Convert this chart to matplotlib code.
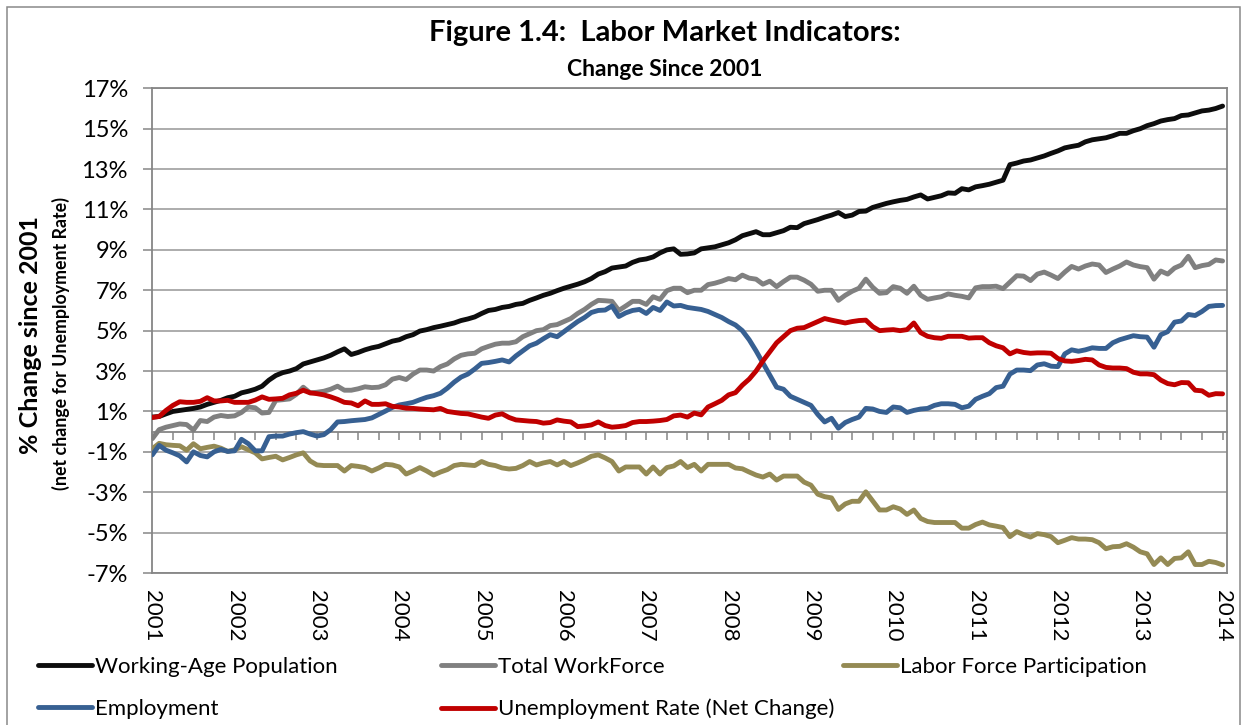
import matplotlib
matplotlib.use("Agg")
import matplotlib.pyplot as plt
from matplotlib.patches import Rectangle
from matplotlib.transforms import blended_transform_factory

plt.rcParams['font.family'] = ['Lato', 'DejaVu Sans']

# ---------------- data (monthly, Jan 2001 .. Jan 2014), % change since 2001 -------------
years = ['2001', '2002', '2003', '2004', '2005', '2006', '2007',
         '2008', '2009', '2010', '2011', '2012', '2013', '2014']

working_age_pop = [
    0.72, 0.75, 0.88, 1.0, 1.05, 1.1, 1.15, 1.22, 1.35, 1.45, 1.55, 1.68,
    1.75, 1.92, 2.0, 2.1, 2.25, 2.55, 2.78, 2.92, 3.0, 3.12, 3.35, 3.45,
    3.55, 3.65, 3.78, 3.95, 4.1, 3.82, 3.92, 4.05, 4.15, 4.22, 4.35, 4.48,
    4.55, 4.7, 4.8, 4.98, 5.05, 5.15, 5.22, 5.3, 5.38, 5.5, 5.58, 5.68,
    5.85, 6.0, 6.05, 6.15, 6.2, 6.3, 6.35, 6.5, 6.62, 6.75, 6.85, 6.98,
    7.1, 7.2, 7.3, 7.42, 7.58, 7.8, 7.92, 8.1, 8.15, 8.2, 8.38, 8.5,
    8.55, 8.65, 8.85, 9.0, 9.05, 8.78, 8.8, 8.85, 9.05, 9.1, 9.15, 9.25,
    9.35, 9.5, 9.7, 9.8, 9.9, 9.75, 9.75, 9.85, 9.95, 10.12, 10.1, 10.3,
    10.4, 10.5, 10.62, 10.72, 10.85, 10.65, 10.72, 10.9, 10.92, 11.1, 11.2, 11.3,
    11.38, 11.45, 11.5, 11.62, 11.72, 11.52, 11.6, 11.68, 11.82, 11.8, 12.03, 11.97,
    12.12, 12.18, 12.25, 12.35, 12.45, 13.22, 13.3, 13.4, 13.45, 13.55, 13.65, 13.78,
    13.9, 14.05, 14.12, 14.18, 14.35, 14.45, 14.5, 14.55, 14.65, 14.77, 14.77, 14.9,
    15.0, 15.15, 15.25, 15.38, 15.45, 15.5, 15.65, 15.68, 15.78, 15.88, 15.92, 16.0,
    16.12]

total_workforce = [
    -0.35, 0.1, 0.22, 0.3, 0.38, 0.35, 0.08, 0.55, 0.5, 0.72, 0.8, 0.75,
    0.78, 0.95, 1.22, 1.18, 0.92, 0.95, 1.55, 1.58, 1.62, 1.85, 2.2, 1.92,
    1.95, 2.0, 2.1, 2.25, 2.05, 2.05, 2.12, 2.22, 2.18, 2.2, 2.32, 2.6,
    2.68, 2.58, 2.85, 3.05, 3.05, 3.0, 3.22, 3.35, 3.6, 3.78, 3.85, 3.88,
    4.1, 4.22, 4.33, 4.38, 4.38, 4.45, 4.7, 4.85, 5.0, 5.05, 5.25, 5.3,
    5.45, 5.6, 5.85, 6.05, 6.3, 6.5, 6.48, 6.45, 6.0, 6.22, 6.45, 6.45,
    6.3, 6.68, 6.55, 6.98, 7.1, 7.1, 6.88, 7.0, 7.0, 7.28, 7.35, 7.45,
    7.58, 7.52, 7.75, 7.6, 7.55, 7.3, 7.45, 7.18, 7.43, 7.65, 7.65, 7.5,
    7.3, 6.95, 7.0, 7.0, 6.5, 6.75, 6.95, 7.1, 7.55, 7.15, 6.85, 6.88,
    7.18, 7.1, 6.85, 7.2, 6.75, 6.55, 6.62, 6.68, 6.82, 6.75, 6.7, 6.62,
    7.12, 7.18, 7.18, 7.2, 7.08, 7.4, 7.72, 7.7, 7.48, 7.8, 7.9, 7.75,
    7.58, 7.9, 8.18, 8.05, 8.2, 8.3, 8.25, 7.88, 8.05, 8.2, 8.4, 8.25,
    8.17, 8.12, 7.55, 7.95, 7.8, 8.1, 8.25, 8.68, 8.12, 8.22, 8.28, 8.5,
    8.45]

labor_force_participation = [
    -0.85, -0.58, -0.65, -0.68, -0.7, -0.92, -0.6, -0.85, -0.78, -0.72, -0.82, -0.98,
    -0.9, -0.75, -0.9, -1.05, -1.35, -1.28, -1.22, -1.4, -1.28, -1.15, -1.05, -1.45,
    -1.65, -1.68, -1.68, -1.68, -1.95, -1.68, -1.72, -1.78, -1.95, -1.8, -1.62, -1.65,
    -1.75, -2.1, -1.95, -1.78, -1.95, -2.15, -2.0, -1.88, -1.68, -1.62, -1.65, -1.68,
    -1.48, -1.62, -1.68, -1.8, -1.85, -1.82, -1.68, -1.48, -1.65, -1.55, -1.48, -1.65,
    -1.48, -1.68, -1.55, -1.4, -1.22, -1.15, -1.3, -1.48, -1.95, -1.75, -1.75, -1.75,
    -2.1, -1.75, -2.1, -1.78, -1.7, -1.48, -1.78, -1.62, -1.95, -1.62, -1.62, -1.62,
    -1.62, -1.8, -1.84, -2.0, -2.15, -2.25, -2.1, -2.4, -2.2, -2.2, -2.2, -2.5,
    -2.65, -3.1, -3.22, -3.28, -3.85, -3.58, -3.45, -3.45, -2.98, -3.43, -3.88, -3.88,
    -3.72, -3.83, -4.1, -3.88, -4.3, -4.45, -4.5, -4.5, -4.5, -4.5, -4.78, -4.78,
    -4.6, -4.48, -4.62, -4.68, -4.75, -5.2, -4.95, -5.1, -5.22, -5.05, -5.1, -5.2,
    -5.5, -5.38, -5.25, -5.32, -5.32, -5.35, -5.5, -5.8, -5.7, -5.68, -5.55, -5.72,
    -5.95, -6.05, -6.58, -6.25, -6.58, -6.28, -6.25, -5.95, -6.58, -6.58, -6.42, -6.48,
    -6.6]

employment = [
    -1.15, -0.68, -0.92, -1.05, -1.2, -1.5, -1.0, -1.18, -1.25, -1.0, -0.88, -0.98,
    -0.95, -0.38, -0.6, -0.95, -0.95, -0.25, -0.22, -0.22, -0.12, -0.05, 0.0, -0.12,
    -0.22, -0.15, 0.1, 0.48, 0.5, 0.54, 0.57, 0.6, 0.68, 0.85, 1.02, 1.2,
    1.32, 1.38, 1.45, 1.58, 1.7, 1.78, 1.9, 2.15, 2.45, 2.7, 2.85, 3.1,
    3.38, 3.42, 3.48, 3.55, 3.45, 3.75, 4.0, 4.25, 4.38, 4.6, 4.8, 4.7,
    4.95, 5.2, 5.45, 5.65, 5.9, 6.0, 6.02, 6.22, 5.7, 5.88, 6.0, 6.05,
    5.85, 6.15, 6.0, 6.42, 6.22, 6.25, 6.15, 6.1, 6.05, 5.95, 5.8, 5.65,
    5.45, 5.28, 5.0, 4.55, 4.0, 3.4, 2.8, 2.2, 2.1, 1.75, 1.6, 1.45,
    1.3, 0.85, 0.48, 0.66, 0.17, 0.45, 0.6, 0.72, 1.15, 1.12, 1.0, 0.95,
    1.22, 1.18, 0.95, 1.05, 1.12, 1.15, 1.3, 1.38, 1.38, 1.35, 1.18, 1.26,
    1.6, 1.75, 1.88, 2.18, 2.25, 2.85, 3.05, 3.05, 3.02, 3.3, 3.36, 3.24,
    3.22, 3.85, 4.05, 3.98, 4.05, 4.15, 4.12, 4.12, 4.4, 4.55, 4.65, 4.75,
    4.7, 4.68, 4.18, 4.8, 4.95, 5.42, 5.48, 5.8, 5.75, 5.95, 6.2, 6.24,
    6.25]

unemployment_net = [
    0.7, 0.75, 1.05, 1.3, 1.48, 1.45, 1.45, 1.5, 1.68, 1.52, 1.52, 1.55,
    1.45, 1.45, 1.45, 1.56, 1.72, 1.6, 1.62, 1.65, 1.82, 1.9, 2.05, 1.92,
    1.88, 1.82, 1.72, 1.6, 1.45, 1.42, 1.28, 1.52, 1.35, 1.35, 1.38, 1.25,
    1.22, 1.16, 1.15, 1.12, 1.1, 1.08, 1.15, 1.0, 0.95, 0.9, 0.88, 0.8,
    0.72, 0.66, 0.82, 0.88, 0.7, 0.58, 0.55, 0.52, 0.5, 0.42, 0.45, 0.58,
    0.52, 0.48, 0.25, 0.28, 0.33, 0.48, 0.3, 0.22, 0.25, 0.3, 0.45, 0.5,
    0.5, 0.52, 0.55, 0.6, 0.78, 0.82, 0.72, 0.92, 0.83, 1.22, 1.38, 1.55,
    1.82, 1.93, 2.3, 2.6, 3.0, 3.5, 3.95, 4.4, 4.7, 5.0, 5.12, 5.15,
    5.3, 5.45, 5.6, 5.52, 5.45, 5.38, 5.45, 5.5, 5.52, 5.2, 5.0, 5.03,
    5.05, 5.0, 5.05, 5.38, 4.9, 4.72, 4.65, 4.62, 4.72, 4.72, 4.72, 4.63,
    4.65, 4.65, 4.4, 4.25, 4.15, 3.85, 4.0, 3.92, 3.88, 3.9, 3.9, 3.88,
    3.62, 3.5, 3.48, 3.52, 3.58, 3.55, 3.3, 3.18, 3.15, 3.15, 3.12, 2.94,
    2.86, 2.86, 2.82, 2.55, 2.38, 2.32, 2.43, 2.42, 2.05, 2.02, 1.8, 1.88,
    1.87]

series_names = ['Working-Age Population', 'Total WorkForce', 'Labor Force Participation',
                'Employment', 'Unemployment Rate (Net Change)']
series_colors = ['#0d0d0d', '#808080', '#948a54', '#376092', '#c00000']
y_ticks = list(range(-7, 18, 2))

# ---------------- figure ----------------
W, H = 1245, 725
fig = plt.figure(figsize=(W / 100, H / 100), dpi=100)
fig.patch.set_facecolor('white')

left_px, right_px, top_px, bottom_px = 152.3, 1226.7, 88.3, 573.0
ax = fig.add_axes([left_px / W, 1 - bottom_px / H,
                   (right_px - left_px) / W, (bottom_px - top_px) / H])

months = list(range(len(working_age_pop)))
all_series = [working_age_pop, total_workforce, labor_force_participation,
              employment, unemployment_net]
lines = []
for vals, name, col in zip(all_series, series_names, series_colors):
    ln, = ax.plot(months, vals, color=col, lw=3.5, label=name,
                  solid_joinstyle='round', solid_capstyle='round', zorder=3)
    lines.append(ln)

grid_col = '#a6a6a6'
axis_col = '#868686'
ax.set_xlim(0, len(months) - 1 + 0.6)
ax.set_ylim(-7, 17)
ax.set_yticks(y_ticks)
ax.set_yticklabels([f'{v}%' for v in y_ticks], fontsize=17)
ax.yaxis.grid(True, color=grid_col, lw=1.3, zorder=1)
ax.tick_params(axis='y', direction='out', length=6.5, width=1.1, color=axis_col,
               pad=11, labelcolor='black')

# category axis crosses at 0 with quarterly tick marks
ax.spines['bottom'].set_position(('data', 0))
ax.spines['bottom'].set_color(axis_col)
ax.spines['bottom'].set_linewidth(1.3)
ax.set_xticks(list(range(0, len(months), 3)))
ax.set_xticklabels([])
ax.tick_params(axis='x', direction='out', length=5.5, width=1.1, color=axis_col)
for side in ['left', 'right', 'top']:
    ax.spines[side].set_color(axis_col)
    ax.spines[side].set_linewidth(1.3)
ax.axhline(-7, color=axis_col, lw=1.3, clip_on=False, zorder=2)

# year labels below the plot
trans = blended_transform_factory(ax.transData, ax.transAxes)
for k, yr in enumerate(years):
    ax.text(12 * k, -0.035, yr, transform=trans, rotation=-90, ha='center', va='top',
            fontsize=16)

# titles
fig.text(665 / W, 1 - 33 / H, 'Figure 1.4:  Labor Market Indicators:', ha='center',
         va='center', fontsize=21, fontweight='bold')
fig.text(665 / W, 1 - 70 / H, 'Change Since 2001', ha='center', va='center',
         fontsize=16.5, fontweight='bold')
fig.text(31 / W, 1 - 335 / H, '% Change since 2001', rotation=90, ha='center',
         va='center', fontsize=18, fontweight='bold')
fig.text(61 / W, 1 - 344 / H, '(net change for Unemployment Rate)', rotation=90,
         ha='center', va='center', fontsize=12.8, fontweight='bold')

# legend in three columns
leg_kw = dict(frameon=False, loc='upper left', fontsize=16, handlelength=2.45,
              handletextpad=0.1, labelspacing=0.98, borderpad=0, borderaxespad=0)
cols = [([0, 3], 38), ([1, 4], 441), ([2], 843)]
for idx, xpx in cols:
    fig.legend([lines[i] for i in idx], [series_names[i] for i in idx],
               bbox_to_anchor=(xpx / W, 1 - 657 / H), **leg_kw)

# outer chart frame
fig.add_artist(Rectangle((7 / W, -0.02), (1240 - 7) / W, (H - 7) / H + 0.02,
                         transform=fig.transFigure, fill=False, edgecolor='#898989',
                         lw=1.1))

fig.savefig('out.png', dpi=100, facecolor='white')
